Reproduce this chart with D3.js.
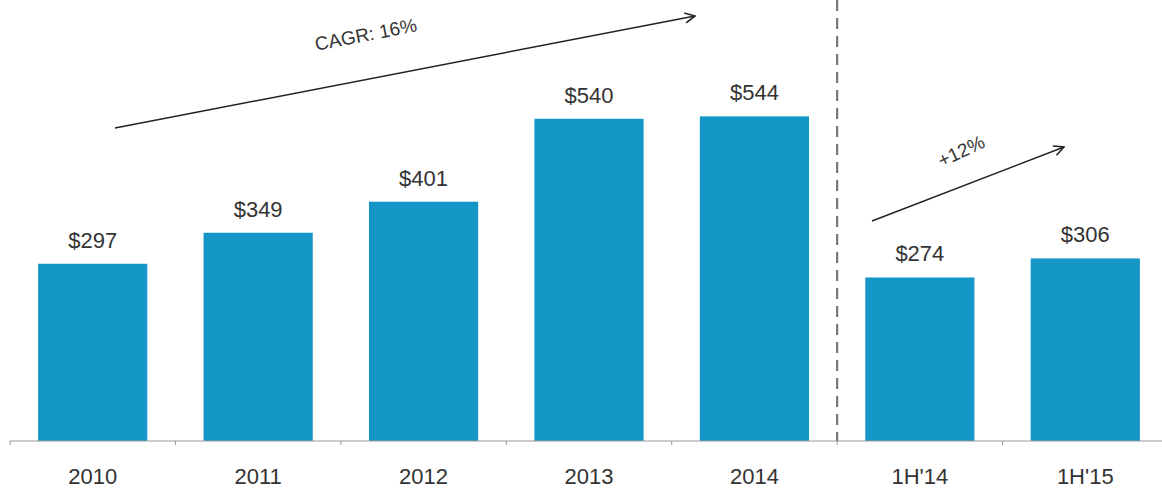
<!DOCTYPE html>
<html>
<head>
<meta charset="utf-8">
<script src="https://cdn.jsdelivr.net/npm/d3@7"></script>
<style>
  html, body { margin: 0; padding: 0; background: #fff; }
  svg { display: block; font-family: "Liberation Sans", Arial, Helvetica, sans-serif; }
</style>
</head>
<body>
<svg id="chart" width="1162" height="489"></svg>
<script>
// Revenue by period ($M)
const categories = ["2010", "2011", "2012", "2013", "2014", "1H'14", "1H'15"];
const values = [297, 349, 401, 540, 544, 274, 306];
const valueLabels = ["$297", "$349", "$401", "$540", "$544", "$274", "$306"];
const cagrText = "CAGR: 16%";
const halfGrowthText = "+12%";

const svg = d3.select("#chart");
const baseY = 441;

const x = d3.scaleBand()
  .domain(categories)
  .range([10, 1168])
  .paddingInner(0.34)
  .paddingOuter(0.17);

const y = d3.scaleLinear()
  .domain([0, 739])
  .range([baseY, 0]);

// Arrow marker
svg.append("defs").append("marker")
  .attr("id", "arrowhead")
  .attr("viewBox", "0 0 12 12")
  .attr("refX", 11).attr("refY", 6)
  .attr("markerWidth", 12).attr("markerHeight", 12)
  .attr("markerUnits", "userSpaceOnUse")
  .attr("orient", "auto")
  .append("path")
  .attr("d", "M1,1 L11,6 L1,11")
  .attr("fill", "none")
  .attr("stroke", "#222")
  .attr("stroke-width", 1.6);

// Bars
svg.append("g").selectAll("rect")
  .data(values)
  .join("rect")
  .attr("x", (d, i) => x(categories[i]))
  .attr("y", d => y(d))
  .attr("width", x.bandwidth())
  .attr("height", d => baseY - y(d))
  .attr("fill", "#1497c6");

// Value labels
svg.append("g").selectAll("text")
  .data(values)
  .join("text")
  .attr("x", (d, i) => x(categories[i]) + x.bandwidth() / 2)
  .attr("y", d => y(d) - 16)
  .attr("text-anchor", "middle")
  .attr("font-size", 22)
  .attr("fill", "#333")
  .text((d, i) => valueLabels[i]);

// X axis: baseline with ticks at band boundaries
const axis = svg.append("g");
axis.append("line")
  .attr("x1", 10).attr("x2", 1162)
  .attr("y1", baseY).attr("y2", baseY)
  .attr("stroke", "#9a9a9a").attr("stroke-width", 1.2);
const step = x.step();
const bounds = categories.map((c, i) => x(c) - (step - x.bandwidth()) / 2);
axis.selectAll("line.tick")
  .data(bounds)
  .join("line")
  .attr("class", "tick")
  .attr("x1", d => d).attr("x2", d => d)
  .attr("y1", baseY).attr("y2", baseY + 4)
  .attr("stroke", "#9a9a9a").attr("stroke-width", 1);
axis.selectAll("text")
  .data(categories)
  .join("text")
  .attr("x", d => x(d) + x.bandwidth() / 2)
  .attr("y", 484)
  .attr("text-anchor", "middle")
  .attr("font-size", 22)
  .attr("fill", "#333")
  .text(d => d);

// Divider between annual and half-year periods
const divX = x("1H'14") - (step - x.bandwidth()) / 2;
svg.append("line")
  .attr("x1", divX).attr("x2", divX)
  .attr("y1", 0).attr("y2", baseY)
  .attr("stroke", "#777")
  .attr("stroke-width", 2.2)
  .attr("stroke-dasharray", "11,7");

// CAGR arrow
svg.append("line")
  .attr("x1", 115).attr("y1", 128)
  .attr("x2", 695).attr("y2", 16)
  .attr("stroke", "#222").attr("stroke-width", 1.5)
  .attr("marker-end", "url(#arrowhead)");
svg.append("text")
  .attr("transform", "translate(367,41) rotate(-11)")
  .attr("text-anchor", "middle")
  .attr("font-size", 19)
  .attr("fill", "#333")
  .text(cagrText);

// Half-year growth arrow
svg.append("line")
  .attr("x1", 872).attr("y1", 221)
  .attr("x2", 1064).attr("y2", 147)
  .attr("stroke", "#222").attr("stroke-width", 1.5)
  .attr("marker-end", "url(#arrowhead)");
svg.append("text")
  .attr("transform", "translate(964,157) rotate(-25)")
  .attr("text-anchor", "middle")
  .attr("font-size", 19)
  .attr("fill", "#333")
  .text(halfGrowthText);
</script>
</body>
</html>
